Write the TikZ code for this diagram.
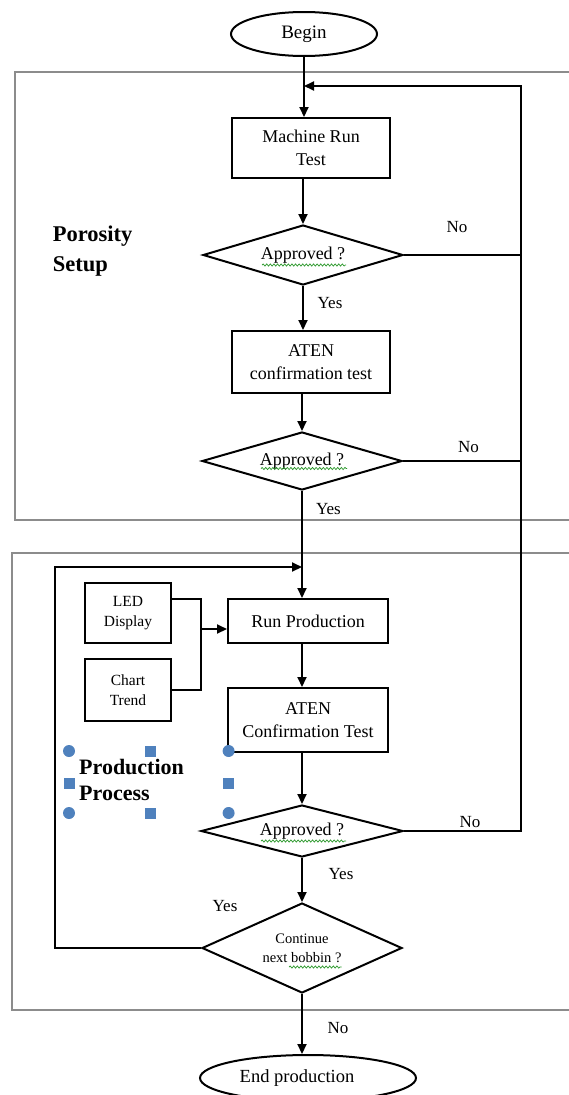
\documentclass[tikz,border=0pt]{standalone}
\usepackage{fontspec}
\setmainfont{Liberation Serif}
\usetikzlibrary{shapes.geometric,arrows.meta,decorations.pathmorphing,calc}

\definecolor{handleblue}{RGB}{79,129,189}
\definecolor{spellgreen}{RGB}{40,150,40}

\begin{document}
\begin{tikzpicture}[x=1pt,y=-1pt,
  flow/.style={draw, line width=2pt, -{Triangle[length=10pt,width=9pt]}},
  link/.style={draw, line width=2pt},
  frame/.style={draw=black!45, line width=1.5pt},
  stepbox/.style={draw, rectangle, line width=2pt, inner sep=0pt, align=center,
    font=\fontsize{18}{23}\selectfont},
  sidebox/.style={draw, rectangle, line width=2pt, inner sep=0pt, align=center,
    minimum width=86pt, font=\fontsize{15.5}{20}\selectfont},
  decision/.style={draw, diamond, aspect=3.3, line width=2pt, inner sep=0pt, align=center,
    font=\fontsize{18}{23}\selectfont},
  terminal/.style={draw, ellipse, line width=2pt, inner sep=0pt,
    font=\fontsize{19}{23}\selectfont},
  answer/.style={inner sep=0pt, font=\fontsize{17}{20}\selectfont},
  section/.style={inner sep=0pt, align=left, anchor=north west},
  squiggle/.style={draw=spellgreen, line width=0.7pt,
    decoration={snake, amplitude=1.1pt, segment length=3.6pt}, decorate},
  hcirc/.style={circle, fill=handleblue, inner sep=0pt, minimum size=12pt},
  hsq/.style={rectangle, fill=handleblue, inner sep=0pt, minimum size=11pt}
]
\useasboundingbox (0,0) rectangle (569,1095);

% section frames (open to the right)
\draw[frame] (575,72) -- (15,72) -- (15,520) -- (575,520);
\draw[frame] (575,553) -- (12,553) -- (12,1010) -- (575,1010);

% flow nodes
\node[terminal, minimum width=146pt, minimum height=44pt] (begin) at (304,34) {Begin};
\node[stepbox, minimum width=158pt, minimum height=60pt] (mrt) at (311,148) {Machine Run\\Test};
\node[decision, minimum width=200pt, minimum height=60pt] (d1) at (303,255) {Approved ?};
\node[stepbox, minimum width=158pt, minimum height=62pt] (aten1) at (311,362) {ATEN\\confirmation test};
\node[decision, minimum width=200pt, minimum height=58pt] (d2) at (302,461) {Approved ?};
\node[stepbox, minimum width=160pt, minimum height=44pt] (run) at (308,621) {Run Production};
\node[sidebox, minimum height=60pt] (led) at (128,613) {LED\\Display};
\node[sidebox, minimum height=62pt] (chart) at (128,690) {Chart\\Trend};
\node[stepbox, minimum width=160pt, minimum height=64pt] (aten2) at (308,720) {ATEN\\Confirmation Test};
\node[decision, minimum width=202pt, minimum height=52pt] (d3) at (302,831) {Approved ?};
\node[decision, aspect=2.2, minimum width=200pt, minimum height=90pt,
  font=\fontsize{14.5}{19}\selectfont] (d4) at (302,948) {Continue\\next bobbin ?};
\node[terminal, minimum width=216pt, minimum height=46pt,
  font=\fontsize{18.5}{22}\selectfont] (end) at (308,1078) {\hspace*{-22pt}End production};

% section titles
\node[section, font=\bfseries\fontsize{22.5}{30}\selectfont] (porosity) at (52.6,226) {Porosity\\Setup};
\node[section, font=\bfseries\fontsize{22}{26}\selectfont] (production) at (79,759) {Production\\Process};

% helper points of the loop-back lines
\coordinate (rtop) at (521,86);
\coordinate (lcorner) at (55,567);
\coordinate (join) at (201,629);

% main flow
\draw[flow] (begin.south) -- (begin.south |- mrt.north);
\draw[flow] (d1.north |- mrt.south) -- (d1.north);
\draw[flow] (d1.south) -- (d1.south |- aten1.north);
\draw[flow] (d2.north |- aten1.south) -- (d2.north);
\draw[flow] (d2.south) -- (d2.south |- run.north);
\draw[flow] (d2.south |- run.south) -- (d2.south |- aten2.north);
\draw[flow] (d3.north |- aten2.south) -- (d3.north);
\draw[flow] (d3.south) -- (d4.north);
\draw[flow] (d4.south) -- (d4.south |- end.north);

% rejection loop back to the machine run test
\draw[flow] (d3.east) -| (rtop) -- (rtop -| begin.south);
\draw[link] (d1.east) -- (d1.east -| rtop);
\draw[link] (d2.east) -- (d2.east -| rtop);

% next bobbin loop
\draw[flow] (d4.west) -| (lcorner) -- (lcorner -| d2.south);

% monitoring inputs
\draw[link] ([yshift=14pt]led.east) -| (join);
\draw[link] (chart.east) -| (join);
\draw[flow] (join) -- (join -| run.west);

% answer labels
\node[answer] (no1) at (457,227) {No};
\node[answer] (yes1) at (330,303) {Yes};
\node[answer] (no2) at (468.4,447) {No};
\node[answer] (yes2) at (328.4,509) {Yes};
\node[answer] (no3) at (470,822) {No};
\node[answer] (yes3) at (341,874) {Yes};
\node[answer] (yes4) at (225,906) {Yes};
\node[answer] (no4) at (338,1028) {No};

% spelling marks
\path[squiggle] ($(d1.center)+(-41,10)$) -- ($(d1.center)+(43,10)$);
\path[squiggle] ($(d2.center)+(-41,7.5)$) -- ($(d2.center)+(45,7.5)$);
\path[squiggle] ($(d3.center)+(-41,10)$) -- ($(d3.center)+(44,10)$);
\path[squiggle] ($(d4.center)+(-13,19)$) -- ($(d4.center)+(39.5,19)$);

% selection handles round the text box
\node[hcirc] (h1) at (69,751) {};
\node[hsq] (h2) at (150,751) {};
\node[hcirc] (h3) at (228.6,751) {};
\node[hsq] (h4) at (69,783) {};
\node[hsq] (h5) at (228.6,783) {};
\node[hcirc] (h6) at (69,813) {};
\node[hsq] (h7) at (150,813) {};
\node[hcirc] (h8) at (228.6,813) {};
\end{tikzpicture}
\end{document}
